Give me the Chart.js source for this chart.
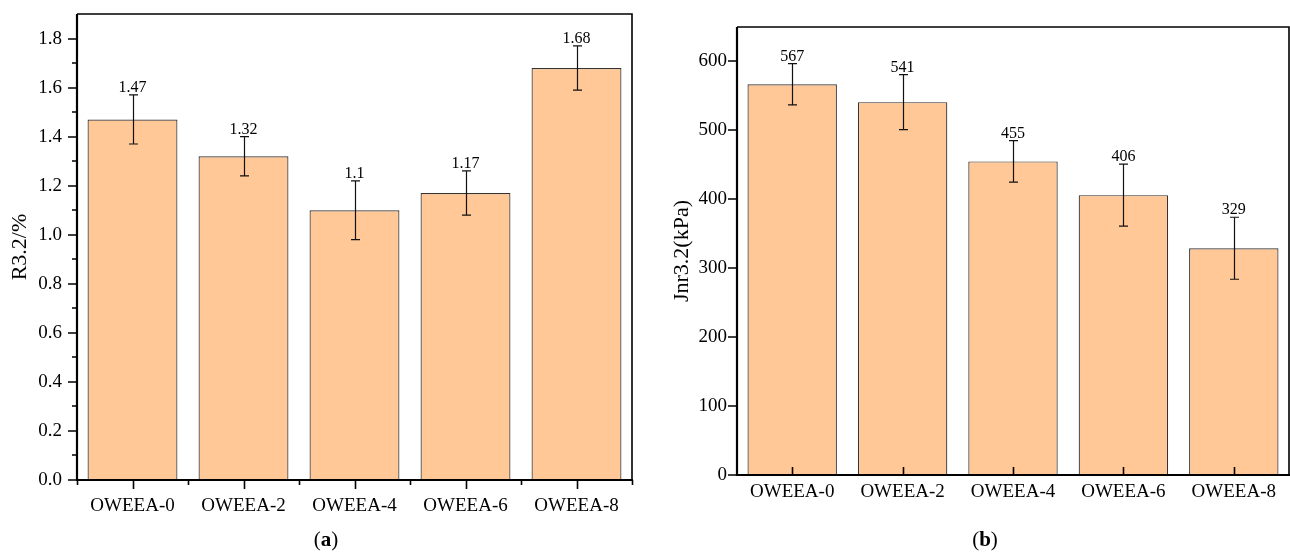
<!DOCTYPE html>
<html>
<head>
<meta charset="utf-8">
<script src="https://cdn.jsdelivr.net/npm/chart.js@4.4.1/dist/chart.umd.min.js"></script>
<style>
  html, body { margin: 0; padding: 0; background: #fff; }
  body { width: 1290px; height: 559px; position: relative; overflow: hidden; }
  .panel { position: absolute; top: 0; width: 645px; height: 559px; }
  .cap { position: absolute; font-family: "Liberation Serif", "Times New Roman", serif; font-size: 21px; color: #000; transform: translateX(-50%); white-space: nowrap; }
  .cap b { font-weight: bold; }
</style>
</head>
<body>
<div class="panel" style="left:0"><canvas id="chartA"></canvas></div>
<div class="panel" style="left:645px"><canvas id="chartB"></canvas></div>
<div class="cap" style="left:326px; top:527px">(<b>a</b>)</div>
<div class="cap" style="left:985px; top:527px">(<b>b</b>)</div>
<script>
// Samples
const categories = ['OWEEA-0', 'OWEEA-2', 'OWEEA-4', 'OWEEA-6', 'OWEEA-8'];

// (a) R3.2 recovery, %
const recoveryValues = [1.47, 1.32, 1.1, 1.17, 1.68];
const recoveryErrors = [0.10, 0.08, 0.12, 0.09, 0.09];
const recoveryTicks = [0, 0.2, 0.4, 0.6, 0.8, 1.0, 1.2, 1.4, 1.6, 1.8];
const recoveryMinorTicks = [0.1, 0.3, 0.5, 0.7, 0.9, 1.1, 1.3, 1.5, 1.7];

// (b) Jnr3.2 non-recoverable creep compliance
const jnrValues = [567, 541, 455, 406, 329];
const jnrErrors = [30, 40, 30, 45, 45];
const jnrTicks = [0, 100, 200, 300, 400, 500, 600];

const FONT = '"Liberation Serif", "Times New Roman", serif';
const BAR_FILL = '#FFC896';
const BAR_EDGE = '#333333';

// Axes frame, tick marks, error bars, value labels and axis title
const decorPlugin = {
  id: 'decor',
  afterDatasetsDraw(chart, args, o) {
    const { ctx, chartArea: a, scales: { x, y } } = chart;
    const meta = chart.getDatasetMeta(0);
    const vals = chart.data.datasets[0].data;
    ctx.save();

    // error bars
    ctx.strokeStyle = '#111';
    ctx.lineWidth = 1.2;
    o.errors.forEach((e, i) => {
      const cx = Math.round(meta.data[i].x) + 0.5;
      const yt = y.getPixelForValue(vals[i] + e);
      const yb = y.getPixelForValue(vals[i] - e);
      ctx.beginPath();
      ctx.moveTo(cx, yt); ctx.lineTo(cx, yb);
      ctx.moveTo(cx - 4.5, yt); ctx.lineTo(cx + 4.5, yt);
      ctx.moveTo(cx - 4.5, yb); ctx.lineTo(cx + 4.5, yb);
      ctx.stroke();
    });

    // value labels
    ctx.fillStyle = '#000';
    ctx.font = '16px ' + FONT;
    ctx.textAlign = 'center';
    ctx.textBaseline = 'alphabetic';
    vals.forEach((v, i) => {
      const yt = y.getPixelForValue(v + o.errors[i]);
      ctx.fillText(String(v), meta.data[i].x, yt - 3);
    });

    // frame
    ctx.strokeStyle = '#000';
    ctx.lineWidth = 1.6;
    ctx.beginPath();
    ctx.moveTo(a.left, a.top); ctx.lineTo(a.right, a.top); ctx.lineTo(a.right, a.bottom);
    ctx.stroke();
    ctx.lineWidth = 2.2;
    ctx.beginPath();
    ctx.moveTo(a.left, a.top); ctx.lineTo(a.left, a.bottom); ctx.lineTo(a.right + 1, a.bottom);
    ctx.stroke();

    // y ticks (outward)
    ctx.lineWidth = 1.6;
    ctx.beginPath();
    y.ticks.forEach(t => {
      const py = Math.round(y.getPixelForValue(t.value));
      ctx.moveTo(a.left, py); ctx.lineTo(a.left - 9, py);
    });
    (o.yMinor || []).forEach(v => {
      const py = Math.round(y.getPixelForValue(v));
      ctx.moveTo(a.left, py); ctx.lineTo(a.left - 5, py);
    });
    ctx.stroke();

    // x ticks
    const half = (a.right - a.left) / categories.length / 2;
    ctx.beginPath();
    categories.forEach((c, i) => {
      const px = Math.round(x.getPixelForValue(i)) + 0.5;
      if (o.xTicksOut) {
        ctx.moveTo(px, a.bottom); ctx.lineTo(px, a.bottom + 9);
      } else {
        ctx.moveTo(px, a.bottom); ctx.lineTo(px, a.bottom - 8);
      }
    });
    if (o.xBoundaryTicks) {
      for (let i = 0; i <= categories.length; i++) {
        const px = Math.round(a.left + 2 * half * i) + 0.5;
        ctx.moveTo(px, a.bottom); ctx.lineTo(px, a.bottom + 5);
      }
    }
    ctx.stroke();

    // y axis title
    ctx.save();
    ctx.translate(o.titleX, (a.top + a.bottom) / 2);
    ctx.rotate(-Math.PI / 2);
    ctx.font = '22px ' + FONT;
    ctx.textAlign = 'center';
    ctx.textBaseline = 'middle';
    ctx.fillStyle = '#000';
    ctx.fillText(o.title, 0, 0);
    ctx.restore();

    ctx.restore();
  }
};

function makeChart(id, values, cfg) {
  return new Chart(document.getElementById(id), {
    type: 'bar',
    data: {
      labels: categories,
      datasets: [{
        data: values,
        backgroundColor: BAR_FILL,
        borderColor: BAR_EDGE,
        borderWidth: 1.2,
        categoryPercentage: 1,
        barPercentage: 0.81
      }]
    },
    options: {
      responsive: true,
      maintainAspectRatio: false,
      animation: false,
      layout: { padding: cfg.padding },
      plugins: {
        legend: { display: false },
        tooltip: { enabled: false },
        decor: cfg.decor
      },
      scales: {
        x: {
          grid: { display: false, drawTicks: false },
          border: { display: false },
          ticks: { color: '#000', font: { family: FONT, size: 19 }, padding: cfg.xPad, maxRotation: 0, autoSkip: false },
          afterFit: s => { s.height = cfg.xHeight; s.paddingLeft = 0; s.paddingRight = 0; }
        },
        y: {
          min: 0,
          max: cfg.yMax,
          grid: { display: false, drawTicks: false },
          border: { display: false },
          afterBuildTicks: s => { s.ticks = cfg.yTicks.map(v => ({ value: v })); },
          ticks: { color: '#000', font: { family: FONT, size: 19 }, padding: cfg.yPad, callback: cfg.yFmt },
          afterFit: s => { s.width = cfg.yWidth; s.paddingTop = 0; s.paddingBottom = 0; }
        }
      }
    },
    plugins: [decorPlugin]
  });
}

makeChart('chartA', recoveryValues, {
  padding: { left: 0, right: 13, top: 14, bottom: 0 },
  xHeight: 79, yWidth: 77, xPad: 15, yPad: 15,
  yMax: 1.9, yTicks: recoveryTicks,
  yFmt: v => Number(v).toFixed(1),
  decor: { errors: recoveryErrors, yMinor: recoveryMinorTicks, xTicksOut: true, xBoundaryTicks: true, title: 'R3.2/%', titleX: 20 }
});

makeChart('chartB', jnrValues, {
  padding: { left: 0, right: 1, top: 27, bottom: 0 },
  xHeight: 84, yWidth: 92, xPad: 6, yPad: 10,
  yMax: 650, yTicks: jnrTicks,
  yFmt: v => String(v),
  decor: { errors: jnrErrors, yMinor: [], xTicksOut: false, xBoundaryTicks: false, title: 'Jnr3.2(kPa)', titleX: 37 }
});
</script>
</body>
</html>
